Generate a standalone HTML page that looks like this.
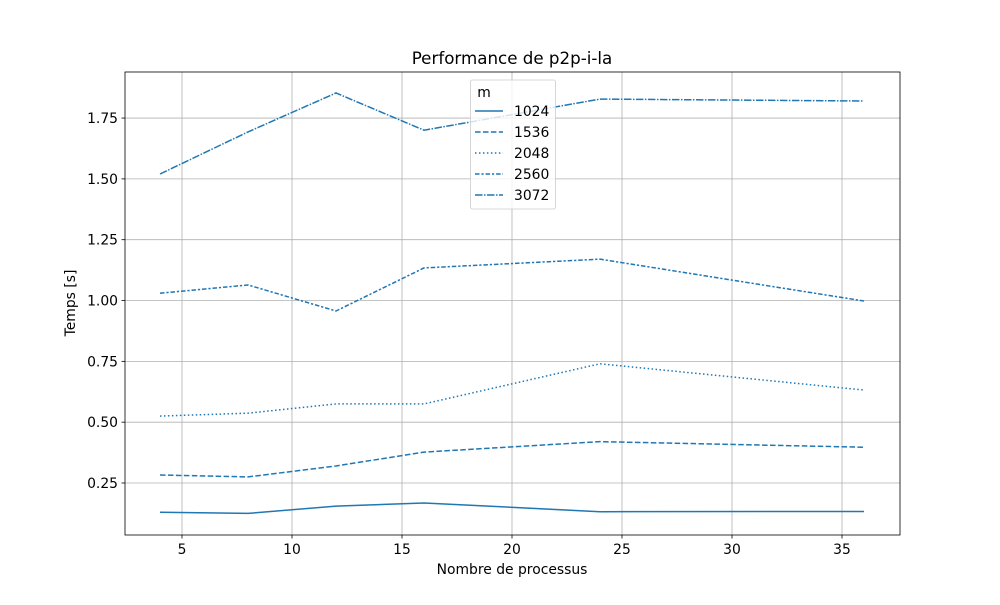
<!DOCTYPE html>
<html><head><meta charset="utf-8"><style>
body{margin:0;background:#fff;}
svg text{font-family:"DejaVu Sans","Liberation Sans",sans-serif;fill:#000;}
</style></head><body>
<svg id="chart" width="1000" height="600" xmlns="http://www.w3.org/2000/svg"></svg>
<script>
const xValues=[4,8,12,16,24,36];
const seriesNames=["1024","1536","2048","2560","3072"];
const s1024=[0.13,0.125,0.155,0.168,0.132,0.133];
const s1536=[0.283,0.275,0.32,0.377,0.42,0.397];
const s2048=[0.525,0.537,0.575,0.575,0.74,0.632];
const s2560=[1.03,1.064,0.957,1.134,1.17,0.998];
const s3072=[1.52,1.693,1.853,1.70,1.828,1.82];
const xTicks=[5,10,15,20,25,30,35];
const yTicks=[0.25,0.5,0.75,1.0,1.25,1.5,1.75];
const yTickLabels=["0.25","0.50","0.75","1.00","1.25","1.50","1.75"];
const series=[s1024,s1536,s2048,s2560,s3072];
const dashes=["","5.55 2.4","1.5 2.475","4.5 1.9 2.25 1.9","7.5 1.5 1.5 1.5"];
const L=125,R=900,T=72,B=535;
const X=v=>182+(v-5)*22;
const Y=v=>483-(v-0.25)*243.3;
const svg=document.getElementById('chart');
const NS="http://www.w3.org/2000/svg";
function mk(tag,attrs,parent){const e=document.createElementNS(NS,tag);for(const k in attrs)e.setAttribute(k,attrs[k]);(parent||svg).appendChild(e);return e;}
xTicks.forEach(t=>{
 const g=mk('line',{x1:X(t),x2:X(t),y1:T,y2:B,stroke:'#b0b0b0','stroke-width':0.8});
 
 
 mk('line',{x1:X(t),x2:X(t),y1:B,y2:B+3.5,stroke:'#000','stroke-width':0.8});
 const tx=mk('text',{x:X(t),y:B+19,'text-anchor':'middle','font-size':'13.9'});tx.textContent=t;
 
 
});
yTicks.forEach((t,i)=>{
 const g=mk('line',{x1:L,x2:R,y1:Y(t),y2:Y(t),stroke:'#b0b0b0','stroke-width':0.8});
 
 
 mk('line',{x1:L-3.5,x2:L,y1:Y(t),y2:Y(t),stroke:'#000','stroke-width':0.8});
 const tx=mk('text',{x:L-7,y:Y(t)+5,'text-anchor':'end','font-size':'13.9'});tx.textContent=yTickLabels[i];
 
 
});
series.forEach((s,i)=>{
 const p=mk('polyline',{points:s.map((v,j)=>X(xValues[j])+','+Y(v)).join(' '),fill:'none',stroke:'#1f77b4','stroke-width':1.5,'stroke-dasharray':dashes[i]});
 
 
});
const frame=mk('rect',{x:L,y:T,width:R-L,height:B-T,fill:'none',stroke:'#000','stroke-width':0.8});


const title=mk('text',{x:512,y:64,'text-anchor':'middle','font-size':'16.7'});title.textContent='Performance de p2p-i-la';


const xl=mk('text',{x:512,y:574,'text-anchor':'middle','font-size':'13.9'});xl.textContent='Nombre de processus';


const yl=mk('text',{x:0,y:0,'text-anchor':'middle','font-size':'13.9',transform:'translate(75,303) rotate(-90)'});yl.textContent='Temps [s]';


const lg=mk('g',{});


mk('rect',{x:470.5,y:80,width:85,height:129,rx:2,fill:'#fff','fill-opacity':0.8,stroke:'#ccc','stroke-width':0.8},lg);
const lt=mk('text',{x:484,y:97,'font-size':'13.9','text-anchor':'middle'},lg);lt.textContent='m';
seriesNames.forEach((n,i)=>{
 const y=111+i*21;
 const e=mk('g',{},lg);
 
 
 mk('line',{x1:475,x2:503,y1:y,y2:y,stroke:'#1f77b4','stroke-width':1.5,'stroke-dasharray':dashes[i]},e);
 const t=mk('text',{x:514,y:y+5,'font-size':'13.9'},e);t.textContent=n;
});
</script>
</body></html>
